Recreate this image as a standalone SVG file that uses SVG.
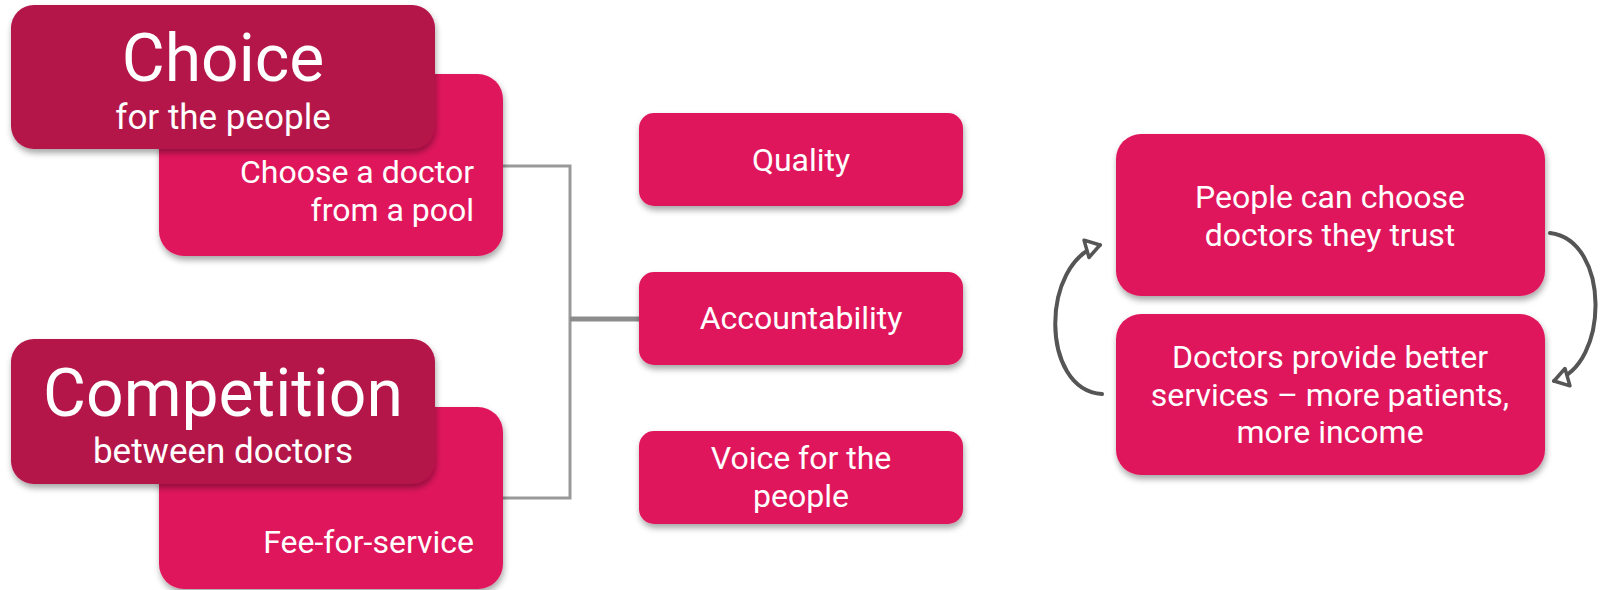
<svg xmlns="http://www.w3.org/2000/svg" width="1600" height="590" viewBox="0 0 1600 590">
  <defs>
    <filter id="shadow" x="-10%" y="-10%" width="120%" height="130%">
      <feDropShadow dx="1" dy="4" stdDeviation="3" flood-color="#000" flood-opacity="0.35"/>
    </filter>
    <marker id="openArrow" markerUnits="userSpaceOnUse" viewBox="0 0 20 24" markerWidth="20" markerHeight="24" refX="17" refY="12" orient="auto">
      <path d="M3,3 L17,12 L3,21 Z" fill="#fff" stroke="#555" stroke-width="3.5" stroke-linejoin="round"/>
    </marker>
  </defs>
  <style>
    .pink { fill: #E0175B; filter: url(#shadow); }
    .dark { fill: #B41248; filter: url(#shadow); }
    text { font-family: Roboto, "Liberation Sans", sans-serif; fill: #fff; }
    .title { font-size: 66px; text-anchor: middle; }
    .sub { font-size: 35px; text-anchor: middle; }
    .body { font-size: 32px; }
    .mid { text-anchor: middle; }
    .end { text-anchor: end; }
    .link { fill: none; stroke: #9a9a9a; stroke-width: 3; }
    .link-main { fill: none; stroke: #8c8c8c; stroke-width: 5; }
    .cycle { fill: none; stroke: #555; stroke-width: 4; stroke-linecap: round; marker-end: url(#openArrow); }
  </style>

  <rect width="1600" height="590" fill="#fff"/>

  <!-- connectors -->
  <g id="connectors">
    <path class="link" d="M503,166 H570 V498 H503"/>
    <path class="link-main" d="M570,319 H639"/>
    <path class="cycle" d="M1550,233 C1610,240 1610,365 1554,381"/>
    <path class="cycle" d="M1102,394 C1040,390 1040,262 1100,245"/>
  </g>

  <!-- choice -->
  <g id="choose-doctor">
    <rect class="pink" x="159" y="74" width="344" height="182" rx="25"/>
    <text class="body end" x="474" y="183">Choose a doctor</text>
    <text class="body end" x="474" y="221">from a pool</text>
  </g>
  <g id="choice">
    <rect class="dark" x="11" y="5" width="424" height="144" rx="23"/>
    <text class="title" x="223" y="81">Choice</text>
    <text class="sub" x="223" y="129">for the people</text>
  </g>

  <!-- competition -->
  <g id="fee-for-service">
    <rect class="pink" x="159" y="407" width="344" height="182" rx="25"/>
    <text class="body end" x="474" y="553">Fee-for-service</text>
  </g>
  <g id="competition">
    <rect class="dark" x="11" y="339" width="424" height="145" rx="23"/>
    <text class="title" x="223" y="416">Competition</text>
    <text class="sub" x="223" y="463">between doctors</text>
  </g>

  <!-- outcomes -->
  <g id="quality">
    <rect class="pink" x="639" y="113" width="324" height="93" rx="15"/>
    <text class="body mid" x="801" y="171">Quality</text>
  </g>
  <g id="accountability">
    <rect class="pink" x="639" y="272" width="324" height="93" rx="15"/>
    <text class="body mid" x="801" y="329">Accountability</text>
  </g>
  <g id="voice">
    <rect class="pink" x="639" y="431" width="324" height="93" rx="15"/>
    <text class="body mid" x="801" y="469">Voice for the</text>
    <text class="body mid" x="801" y="507">people</text>
  </g>

  <!-- feedback loop -->
  <g id="people-choose">
    <rect class="pink" x="1116" y="134" width="429" height="162" rx="25"/>
    <text class="body mid" x="1330" y="208">People can choose</text>
    <text class="body mid" x="1330" y="246">doctors they trust</text>
  </g>
  <g id="better-services">
    <rect class="pink" x="1116" y="314" width="429" height="161" rx="25"/>
    <text class="body mid" x="1330" y="368">Doctors provide better</text>
    <text class="body mid" x="1330" y="406">services – more patients,</text>
    <text class="body mid" x="1330" y="443">more income</text>
  </g>
</svg>
